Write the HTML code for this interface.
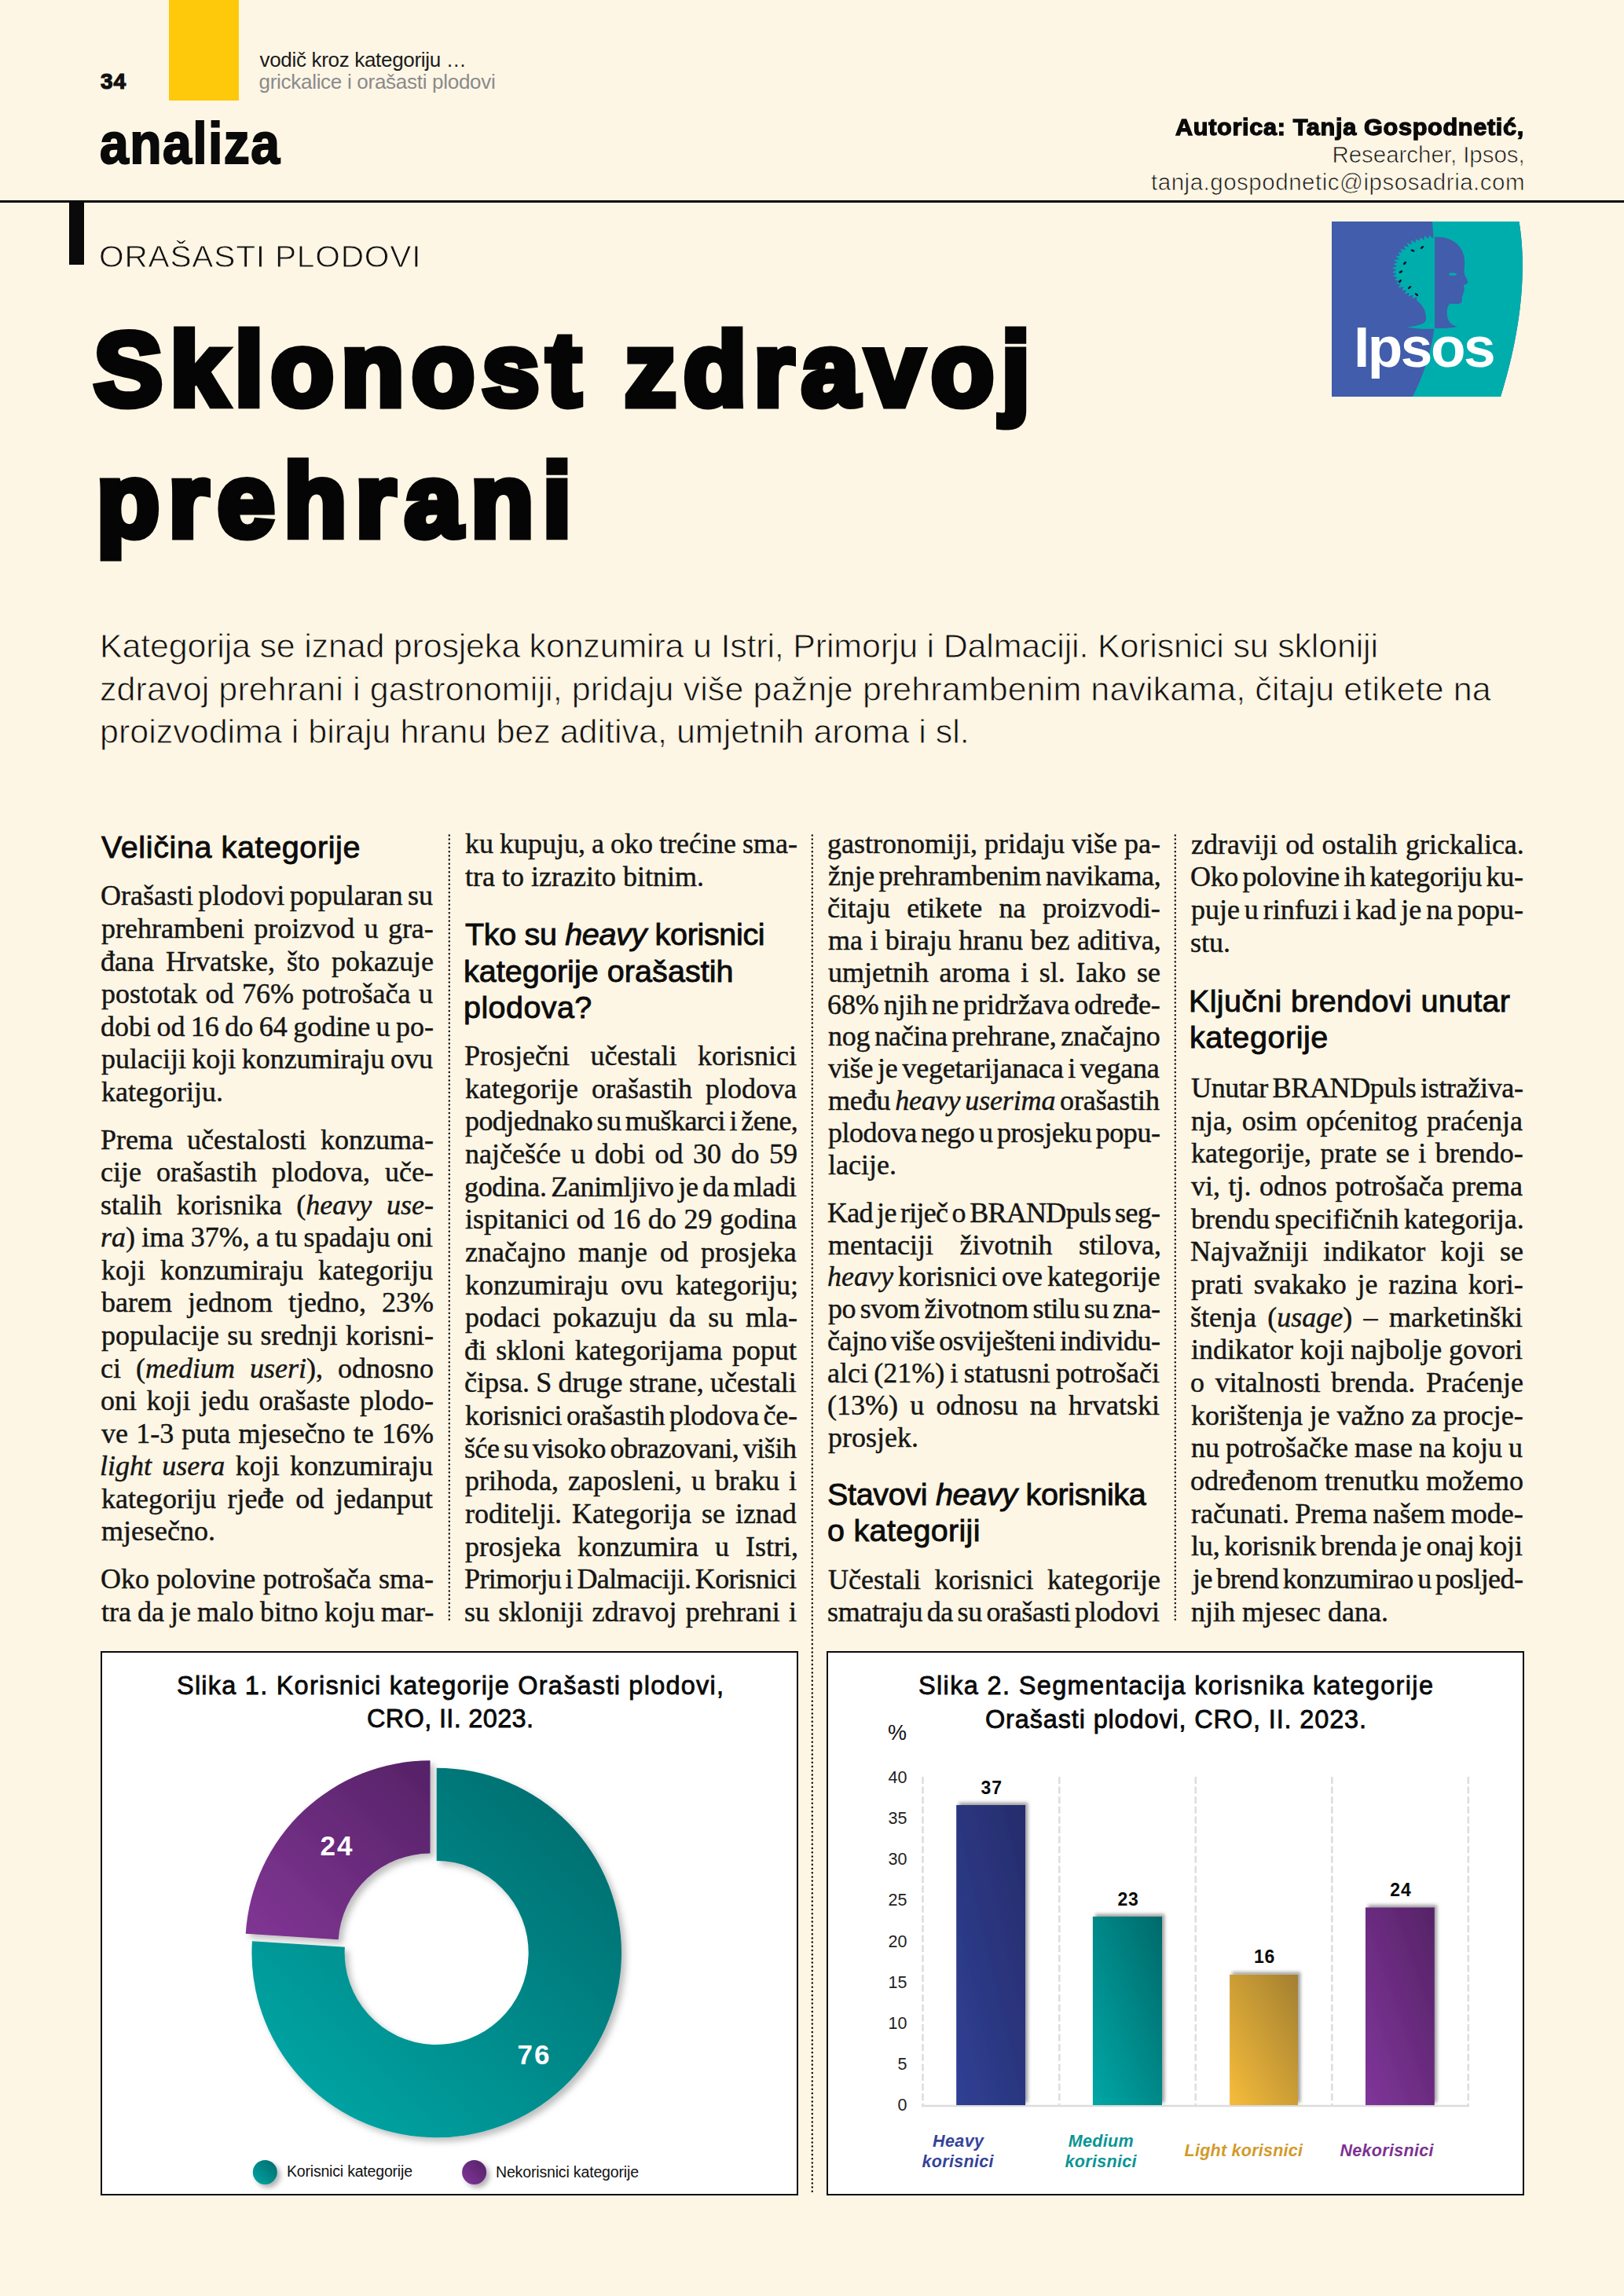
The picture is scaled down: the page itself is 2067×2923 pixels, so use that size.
<!DOCTYPE html><html lang="hr"><head><meta charset="utf-8"><title>Sklonost zdravoj prehrani</title><style>

html,body{margin:0;padding:0}
body{width:2067px;height:2923px;position:relative;overflow:hidden;background:#fef6e5;color:#141414;font-family:"Liberation Sans",sans-serif}
.a{position:absolute;white-space:nowrap;line-height:1;margin:0;padding:0}
.b{font-family:"Liberation Serif",serif;font-size:36px;color:#161616;-webkit-text-stroke:0.45px #161616}
.b i{font-style:italic}
.hd{font-family:"Liberation Sans",sans-serif;font-size:39.5px;color:#0c0c0c;-webkit-text-stroke:0.9px #0c0c0c}
.pg{font-weight:700;font-size:28px;-webkit-text-stroke:1.2px #111;color:#111}
.top1{font-size:26px;color:#1a1a1a}
.top2{font-size:26px;color:#8a8a8a}
.an{font-weight:700;font-size:75px;color:#0a0a0a;-webkit-text-stroke:2.2px #0a0a0a;transform:scaleX(0.88);transform-origin:0 50%}
.op{font-size:38px;color:#111;-webkit-text-stroke:0.8px #fef6e5;transform:scaleX(1.07);transform-origin:0 50%}
.a1{font-weight:700;font-size:29.5px;color:#0a0a0a;-webkit-text-stroke:1.3px #0a0a0a;transform:scaleX(1.04);transform-origin:0 50%}
.a2{font-size:29.5px;color:#111;-webkit-text-stroke:0.7px #fef6e5}
.ttl{font-weight:700;font-size:131px;color:#050505;-webkit-text-stroke:9px #050505;paint-order:stroke fill}
.lead{font-size:43px;color:#111;-webkit-text-stroke:0.8px #fef6e5}

.yb{position:absolute;left:215px;top:0;width:88.5px;height:127.5px;background:#fdc90a}
.rule{position:absolute;left:0;top:254.7px;width:2067px;height:3px;background:#0a0a0a}
.bar{position:absolute;left:88px;top:256px;width:18.6px;height:81px;background:#0a0a0a}
.sep{position:absolute;width:0;border-left:2.2px dotted #3a3a3a}
.box{position:absolute;top:2101.5px;height:693.3px;background:#fff;border:2.5px solid #0a0a0a;box-sizing:border-box}
svg{position:absolute;overflow:visible}
svg text{font-family:"Liberation Sans",sans-serif}

</style></head><body>
<div class="yb"></div>
<div class="rule"></div>
<div class="bar"></div>
<svg style="left:0;top:1060px" width="2067" height="1740" viewBox="0 1060 2067 1740"><g stroke="#111" stroke-width="2.5" stroke-linecap="round" stroke-dasharray="0 5.2"><line x1="571.8" y1="1063.4" x2="571.8" y2="2064"/><line x1="1033.8" y1="1063.4" x2="1033.8" y2="2791"/><line x1="1495.8" y1="1063.4" x2="1495.8" y2="2064"/></g></svg>
<svg id="logo" style="left:1695px;top:282px" width="246" height="223" viewBox="0 0 246 223">
<defs><clipPath id="lc"><path d="M0 0 H238.5 C246 45 247 120 215 223 H0 Z"/></clipPath></defs>
<g clip-path="url(#lc)">
<rect x="0" y="0" width="250" height="223" fill="#415dab"/>
<path d="M128 0 C131 40 134 90 131 130 C128 165 115 200 103 223 H250 V0 Z" fill="#00adad"/>
<!-- tree crown (teal on blue) -->
<path d="M131 17.9 L131.0 17.2 L128.2 21.4 L124.7 17.4 L122.5 21.9 L118.4 18.0 L117.2 23.6 L112.7 20.2 L111.5 24.4 L106.8 22.0 L106.8 27.1 L100.8 23.8 L101.9 29.5 L95.8 27.1 L97.6 32.5 L91.4 30.9 L94.2 36.1 L87.4 34.9 L89.9 39.4 L84.1 39.4 L87.3 43.5 L81.1 44.0 L86.1 48.1 L78.9 48.9 L83.8 52.4 L78.2 54.0 L83.7 57.1 L76.7 59.1 L82.8 61.7 L77.1 64.4 L82.6 66.4 L77.9 69.5 L83.7 71.0 L80.0 74.5 L85.6 75.4 L82.2 79.3 L87.8 79.8 L84.6 84.1 L91.8 83.2 L89.1 87.9 L95.1 86.9 L92.4 92.5 L98.9 90.4 L97.4 95.6 L103.4 93.2 L102.7 98.5 L108.2 95.7 L108.4 100.8 C118 108 120 116 120 124 C120 131 108 133 96 134.5 C108 137 120 137 131 136.5 Z" fill="#00adad"/>
<!-- face (blue on teal) -->
<path d="M131 20 C142 19 152 22 160 29 C167 36 170 46 169 56 C169 60 168 64 169 67 C170 71 174 75 173 78 C172 80 168 80 168 82 C168 85 170 87 168 89 C167 91 168 93 166 95 C165 98 167 102 164 104 C160 106 154 104 150 105 C147 108 146 114 147 120 C148 126 150 131 160 134 C150 136 140 136 131 136 Z" fill="#415dab"/>
<ellipse cx="154" cy="67" rx="5" ry="1.8" fill="#00adad"/>
<g fill="#0b1320"><ellipse cx="115" cy="33" rx="2.6" ry="1.3" transform="rotate(-40 115 33)"/><ellipse cx="103" cy="37" rx="2.6" ry="1.3" transform="rotate(20 103 37)"/><ellipse cx="93" cy="53" rx="2.6" ry="1.3" transform="rotate(-45 93 53)"/><ellipse cx="88" cy="64" rx="2.6" ry="1.3" transform="rotate(-30 88 64)"/><ellipse cx="87" cy="76" rx="2.6" ry="1.3" transform="rotate(-50 87 76)"/><ellipse cx="99" cy="84" rx="2.6" ry="1.3" transform="rotate(-35 99 84)"/><ellipse cx="108" cy="93" rx="2.6" ry="1.3" transform="rotate(40 108 93)"/></g>
</g>
<text x="28" y="185" font-size="73" font-weight="700" fill="#fff" letter-spacing="-2.5" textLength="178" lengthAdjust="spacingAndGlyphs">Ipsos</text>
</svg>

<div class="a pg" id="pg" style="left:128.00px;top:90.00px;letter-spacing:1.000px">34</div>
<div class="a top1" id="t1" style="left:330.50px;top:63.00px;letter-spacing:-0.318px">vodič kroz kategoriju …</div>
<div class="a top2" id="t2" style="left:329.50px;top:90.70px;letter-spacing:-0.286px">grickalice i orašasti plodovi</div>
<div class="a an" id="an" style="left:127.00px;top:144.61px;letter-spacing:1.667px">analiza</div>
<div class="a op" id="op" style="left:126.00px;top:308.00px;letter-spacing:0.733px">ORAŠASTI PLODOVI</div>
<div class="a a1" id="a1" style="left:1496.00px;top:146.56px;letter-spacing:0.630px">Autorica: Tanja Gospodnetić,</div>
<div class="a a2" id="a2" style="left:1695.50px;top:181.50px;letter-spacing:-0.047px">Researcher, Ipsos,</div>
<div class="a a2" id="a3" style="left:1465.00px;top:217.41px;letter-spacing:0.516px">tanja.gospodnetic@ipsosadria.com</div>
<div class="a ttl" id="h1" style="left:119.50px;top:404.91px;letter-spacing:9.547px">Sklonost zdravoj</div>
<div class="a ttl" id="h2" style="left:123.00px;top:571.50px;letter-spacing:11.429px">prehrani</div>
<div class="a lead" id="l1" style="left:127.00px;top:801.41px;letter-spacing:-0.191px">Kategorija se iznad prosjeka konzumira u Istri, Primorju i Dalmaciji. Korisnici su skloniji</div>
<div class="a lead" id="l2" style="left:127.00px;top:856.20px;letter-spacing:0.100px">zdravoj prehrani i gastronomiji, pridaju više pažnje prehrambenim navikama, čitaju etikete na</div>
<div class="a lead" id="l3" style="left:127.00px;top:909.70px;letter-spacing:0.003px">proizvodima i biraju hranu bez aditiva, umjetnih aroma i sl.</div>
<div class="a hd" id="b0" style="left:129.00px;top:1059.00px;letter-spacing:0.611px">Veličina kategorije</div>
<div class="a b" id="b1" style="left:128.00px;top:1122.41px;word-spacing:-2.667px;letter-spacing:0.000px">Orašasti plodovi popularan su</div>
<div class="a b" id="b2" style="left:129.00px;top:1163.95px;word-spacing:3.333px;letter-spacing:0.000px">prehrambeni proizvod u gra-</div>
<div class="a b" id="b3" style="left:128.00px;top:1205.50px;word-spacing:6.000px;letter-spacing:0.000px">đana Hrvatske, što pokazuje</div>
<div class="a b" id="b4" style="left:129.00px;top:1247.06px;word-spacing:1.500px;letter-spacing:0.000px">postotak od 76% potrošača u</div>
<div class="a b" id="b5" style="left:128.00px;top:1288.61px;word-spacing:-1.571px;letter-spacing:0.000px">dobi od 16 do 64 godine u po-</div>
<div class="a b" id="b6" style="left:129.00px;top:1330.16px;word-spacing:-1.667px;letter-spacing:0.000px">pulaciji koji konzumiraju ovu</div>
<div class="a b" id="b7" style="left:129.00px;top:1371.70px;word-spacing:0.000px;letter-spacing:0.000px">kategoriju.</div>
<div class="a b" id="b8" style="left:128.00px;top:1432.66px;word-spacing:9.000px;letter-spacing:0.000px">Prema učestalosti konzuma-</div>
<div class="a b" id="b9" style="left:128.00px;top:1474.20px;word-spacing:10.000px;letter-spacing:0.000px">cije orašastih plodova, uče-</div>
<div class="a b" id="b10" style="left:128.00px;top:1515.75px;word-spacing:9.667px;letter-spacing:0.000px">stalih korisnika (<i>heavy use-</i></div>
<div class="a b" id="b11" style="left:128.00px;top:1557.31px;word-spacing:-0.667px;letter-spacing:0.000px"><i>ra</i>) ima 37%, a tu spadaju oni</div>
<div class="a b" id="b12" style="left:129.00px;top:1598.86px;word-spacing:10.000px;letter-spacing:0.000px">koji konzumiraju kategoriju</div>
<div class="a b" id="b13" style="left:129.00px;top:1640.41px;word-spacing:11.000px;letter-spacing:0.000px">barem jednom tjedno, 23%</div>
<div class="a b" id="b14" style="left:129.00px;top:1681.95px;word-spacing:1.333px;letter-spacing:0.000px">populacije su srednji korisni-</div>
<div class="a b" id="b15" style="left:128.00px;top:1723.50px;word-spacing:10.000px;letter-spacing:0.000px">ci (<i>medium useri</i>), odnosno</div>
<div class="a b" id="b16" style="left:128.00px;top:1765.06px;word-spacing:3.500px;letter-spacing:0.000px">oni koji jedu orašaste plodo-</div>
<div class="a b" id="b17" style="left:129.00px;top:1806.61px;word-spacing:1.200px;letter-spacing:0.000px">ve 1-3 puta mjesečno te 16%</div>
<div class="a b" id="b18" style="left:127.00px;top:1848.16px;word-spacing:4.333px;letter-spacing:0.000px"><i>light usera</i> koji konzumiraju</div>
<div class="a b" id="b19" style="left:129.00px;top:1889.70px;word-spacing:5.667px;letter-spacing:0.000px">kategoriju rjeđe od jedanput</div>
<div class="a b" id="b20" style="left:129.00px;top:1931.25px;word-spacing:0.000px;letter-spacing:0.000px">mjesečno.</div>
<div class="a b" id="b21" style="left:128.00px;top:1992.20px;word-spacing:0.333px;letter-spacing:0.000px">Oko polovine potrošača sma-</div>
<div class="a b" id="b22" style="left:129.00px;top:2033.75px;word-spacing:-1.000px;letter-spacing:0.000px">tra da je malo bitno koju mar-</div>
<div class="a b" id="b23" style="left:592.00px;top:1056.00px;word-spacing:-1.000px;letter-spacing:0.000px">ku kupuju, a oko trećine sma-</div>
<div class="a b" id="b24" style="left:592.00px;top:1097.61px;word-spacing:0.000px;letter-spacing:0.000px">tra to izrazito bitnim.</div>
<div class="a hd" id="b25" style="left:592.00px;top:1169.91px;letter-spacing:-0.333px">Tko su <i>heavy</i> korisnici</div>
<div class="a hd" id="b26" style="left:590.00px;top:1216.50px;letter-spacing:0.053px">kategorije orašastih</div>
<div class="a hd" id="b27" style="left:590.00px;top:1262.50px;letter-spacing:0.429px">plodova?</div>
<div class="a b" id="b28" style="left:591.00px;top:1326.20px;word-spacing:17.500px;letter-spacing:0.000px">Prosječni učestali korisnici</div>
<div class="a b" id="b29" style="left:592.00px;top:1367.82px;word-spacing:8.000px;letter-spacing:0.000px">kategorije orašastih plodova</div>
<div class="a b" id="b30" style="left:592.00px;top:1409.45px;word-spacing:-3.000px;letter-spacing:-0.586px">podjednako su muškarci i žene,</div>
<div class="a b" id="b31" style="left:592.00px;top:1451.07px;word-spacing:3.500px;letter-spacing:0.000px">najčešće u dobi od 30 do 59</div>
<div class="a b" id="b32" style="left:591.00px;top:1492.68px;word-spacing:-3.000px;letter-spacing:-0.345px">godina. Zanimljivo je da mladi</div>
<div class="a b" id="b33" style="left:592.00px;top:1534.31px;word-spacing:0.600px;letter-spacing:0.000px">ispitanici od 16 do 29 godina</div>
<div class="a b" id="b34" style="left:592.00px;top:1575.93px;word-spacing:7.000px;letter-spacing:0.000px">značajno manje od prosjeka</div>
<div class="a b" id="b35" style="left:592.00px;top:1617.54px;word-spacing:7.000px;letter-spacing:0.000px">konzumiraju ovu kategoriju;</div>
<div class="a b" id="b36" style="left:592.00px;top:1659.18px;word-spacing:6.750px;letter-spacing:0.000px">podaci pokazuju da su mla-</div>
<div class="a b" id="b37" style="left:591.00px;top:1700.79px;word-spacing:3.333px;letter-spacing:0.000px">đi skloni kategorijama poput</div>
<div class="a b" id="b38" style="left:591.00px;top:1742.41px;word-spacing:-0.750px;letter-spacing:0.000px">čipsa. S druge strane, učestali</div>
<div class="a b" id="b39" style="left:592.00px;top:1784.04px;word-spacing:-3.000px;letter-spacing:-0.300px">korisnici orašastih plodova če-</div>
<div class="a b" id="b40" style="left:591.00px;top:1825.65px;word-spacing:-3.000px;letter-spacing:-0.467px">šće su visoko obrazovani, viših</div>
<div class="a b" id="b41" style="left:592.00px;top:1867.27px;word-spacing:3.000px;letter-spacing:0.000px">prihoda, zaposleni, u braku i</div>
<div class="a b" id="b42" style="left:592.00px;top:1908.88px;word-spacing:4.000px;letter-spacing:0.000px">roditelji. Kategorija se iznad</div>
<div class="a b" id="b43" style="left:592.00px;top:1950.50px;word-spacing:12.000px;letter-spacing:0.000px">prosjeka konzumira u Istri,</div>
<div class="a b" id="b44" style="left:591.00px;top:1992.13px;word-spacing:-3.000px;letter-spacing:-0.600px">Primorju i Dalmaciji. Korisnici</div>
<div class="a b" id="b45" style="left:591.00px;top:2033.75px;word-spacing:2.250px;letter-spacing:0.000px">su skloniji zdravoj prehrani i</div>
<div class="a b" id="b46" style="left:1053.00px;top:1056.41px;word-spacing:0.000px;letter-spacing:0.000px">gastronomiji, pridaju više pa-</div>
<div class="a b" id="b47" style="left:1054.00px;top:1097.25px;word-spacing:-3.000px;letter-spacing:-0.269px">žnje prehrambenim navikama,</div>
<div class="a b" id="b48" style="left:1053.00px;top:1138.09px;word-spacing:12.333px;letter-spacing:0.000px">čitaju etikete na proizvodi-</div>
<div class="a b" id="b49" style="left:1054.00px;top:1178.93px;word-spacing:0.400px;letter-spacing:0.000px">ma i biraju hranu bez aditiva,</div>
<div class="a b" id="b50" style="left:1054.00px;top:1219.77px;word-spacing:4.600px;letter-spacing:0.000px">umjetnih aroma i sl. Iako se</div>
<div class="a b" id="b51" style="left:1053.00px;top:1260.61px;word-spacing:-3.000px;letter-spacing:-0.071px">68% njih ne pridržava određe-</div>
<div class="a b" id="b52" style="left:1054.00px;top:1301.45px;word-spacing:-3.000px;letter-spacing:-0.214px">nog načina prehrane, značajno</div>
<div class="a b" id="b53" style="left:1054.00px;top:1342.29px;word-spacing:-3.000px;letter-spacing:-0.200px">više je vegetarijanaca i vegana</div>
<div class="a b" id="b54" style="left:1054.00px;top:1383.13px;word-spacing:-3.000px;letter-spacing:-0.148px">među <i>heavy userima</i> orašastih</div>
<div class="a b" id="b55" style="left:1054.00px;top:1423.96px;word-spacing:-3.000px;letter-spacing:-0.464px">plodova nego u prosjeku popu-</div>
<div class="a b" id="b56" style="left:1054.00px;top:1464.81px;word-spacing:0.000px;letter-spacing:0.000px">lacije.</div>
<div class="a b" id="b57" style="left:1053.00px;top:1525.70px;word-spacing:-3.000px;letter-spacing:-0.714px">Kad je riječ o BRANDpuls seg-</div>
<div class="a b" id="b58" style="left:1054.00px;top:1566.54px;word-spacing:24.500px;letter-spacing:0.000px">mentaciji životnih stilova,</div>
<div class="a b" id="b59" style="left:1053.00px;top:1607.38px;word-spacing:-3.000px;letter-spacing:0.000px"><i>heavy</i> korisnici ove kategorije</div>
<div class="a b" id="b60" style="left:1054.00px;top:1648.23px;word-spacing:-3.000px;letter-spacing:-0.448px">po svom životnom stilu su zna-</div>
<div class="a b" id="b61" style="left:1053.00px;top:1689.07px;word-spacing:-3.000px;letter-spacing:-0.516px">čajno više osviješteni individu-</div>
<div class="a b" id="b62" style="left:1053.00px;top:1729.91px;word-spacing:-1.750px;letter-spacing:0.000px">alci (21%) i statusni potrošači</div>
<div class="a b" id="b63" style="left:1053.00px;top:1770.75px;word-spacing:6.250px;letter-spacing:0.000px">(13%) u odnosu na hrvatski</div>
<div class="a b" id="b64" style="left:1054.00px;top:1811.59px;word-spacing:0.000px;letter-spacing:0.000px">prosjek.</div>
<div class="a hd" id="b65" style="left:1053.00px;top:1883.00px;letter-spacing:-0.318px">Stavovi <i>heavy</i> korisnika</div>
<div class="a hd" id="b66" style="left:1053.00px;top:1928.50px;letter-spacing:0.309px">o kategoriji</div>
<div class="a b" id="b67" style="left:1054.00px;top:1992.81px;word-spacing:8.500px;letter-spacing:0.000px">Učestali korisnici kategorije</div>
<div class="a b" id="b68" style="left:1053.00px;top:2033.70px;word-spacing:-3.000px;letter-spacing:-0.367px">smatraju da su orašasti plodovi</div>
<div class="a b" id="b69" style="left:1516.00px;top:1056.81px;word-spacing:1.333px;letter-spacing:0.000px">zdraviji od ostalih grickalica.</div>
<div class="a b" id="b70" style="left:1515.00px;top:1098.41px;word-spacing:-3.000px;letter-spacing:-0.345px">Oko polovine ih kategoriju ku-</div>
<div class="a b" id="b71" style="left:1516.00px;top:1140.00px;word-spacing:-3.000px;letter-spacing:-0.032px">puje u rinfuzi i kad je na popu-</div>
<div class="a b" id="b72" style="left:1515.00px;top:1181.61px;word-spacing:0.000px;letter-spacing:0.000px">stu.</div>
<div class="a hd" id="b73" style="left:1513.00px;top:1254.50px;letter-spacing:0.327px">Ključni brendovi unutar</div>
<div class="a hd" id="b74" style="left:1514.00px;top:1301.00px;letter-spacing:0.556px">kategorije</div>
<div class="a b" id="b75" style="left:1516.00px;top:1366.91px;word-spacing:-3.000px;letter-spacing:-0.346px">Unutar BRANDpuls istraživa-</div>
<div class="a b" id="b76" style="left:1516.00px;top:1408.58px;word-spacing:2.667px;letter-spacing:0.000px">nja, osim općenitog praćenja</div>
<div class="a b" id="b77" style="left:1516.00px;top:1450.25px;word-spacing:2.500px;letter-spacing:0.000px">kategorije, prate se i brendo-</div>
<div class="a b" id="b78" style="left:1516.00px;top:1491.94px;word-spacing:1.500px;letter-spacing:0.000px">vi, tj. odnos potrošača prema</div>
<div class="a b" id="b79" style="left:1516.00px;top:1533.61px;word-spacing:-2.500px;letter-spacing:0.000px">brendu specifičnih kategorija.</div>
<div class="a b" id="b80" style="left:1515.00px;top:1575.28px;word-spacing:10.333px;letter-spacing:0.000px">Najvažniji indikator koji se</div>
<div class="a b" id="b81" style="left:1516.00px;top:1616.95px;word-spacing:4.750px;letter-spacing:0.000px">prati svakako je razina kori-</div>
<div class="a b" id="b82" style="left:1515.00px;top:1658.64px;word-spacing:5.333px;letter-spacing:0.000px">štenja (<i>usage</i>) – marketinški</div>
<div class="a b" id="b83" style="left:1516.00px;top:1700.31px;word-spacing:-0.333px;letter-spacing:0.000px">indikator koji najbolje govori</div>
<div class="a b" id="b84" style="left:1515.00px;top:1741.98px;word-spacing:4.667px;letter-spacing:0.000px">o vitalnosti brenda. Praćenje</div>
<div class="a b" id="b85" style="left:1516.00px;top:1783.66px;word-spacing:-0.250px;letter-spacing:0.000px">korištenja je važno za procje-</div>
<div class="a b" id="b86" style="left:1516.00px;top:1825.33px;word-spacing:-1.000px;letter-spacing:0.000px">nu potrošačke mase na koju u</div>
<div class="a b" id="b87" style="left:1515.00px;top:1867.00px;word-spacing:0.000px;letter-spacing:0.000px">određenom trenutku možemo</div>
<div class="a b" id="b88" style="left:1516.00px;top:1908.69px;word-spacing:-1.667px;letter-spacing:0.000px">računati. Prema našem mode-</div>
<div class="a b" id="b89" style="left:1516.00px;top:1950.36px;word-spacing:-3.000px;letter-spacing:-0.161px">lu, korisnik brenda je onaj koji</div>
<div class="a b" id="b90" style="left:1518.00px;top:1992.03px;word-spacing:-3.000px;letter-spacing:-0.586px">je brend konzumirao u posljed-</div>
<div class="a b" id="b91" style="left:1516.00px;top:2033.70px;word-spacing:0.000px;letter-spacing:0.000px">njih mjesec dana.</div>
<div class="box" style="left:128px;width:888px"></div>
<div class="box" style="left:1052px;width:888px"></div>
<svg style="left:0;top:2100px" width="2067" height="700" viewBox="0 2100 2067 700">
<defs>
<linearGradient id="gt" gradientUnits="userSpaceOnUse" x1="760" y1="2290" x2="380" y2="2680"><stop offset="0" stop-color="#006c6e"/><stop offset="1" stop-color="#00a5a4"/></linearGradient>
<linearGradient id="gp" gradientUnits="userSpaceOnUse" x1="550" y1="2245" x2="330" y2="2470"><stop offset="0" stop-color="#552266"/><stop offset="1" stop-color="#7f3593"/></linearGradient>
<linearGradient id="gb1" x1="0" y1="1" x2="1" y2="0"><stop offset="0" stop-color="#2f4094"/><stop offset="1" stop-color="#262c6b"/></linearGradient>
<linearGradient id="gb2" x1="0" y1="1" x2="1" y2="0"><stop offset="0" stop-color="#00a7a6"/><stop offset="1" stop-color="#00696a"/></linearGradient>
<linearGradient id="gb3" x1="0" y1="1" x2="1" y2="0"><stop offset="0" stop-color="#f6bc3b"/><stop offset="1" stop-color="#a27f30"/></linearGradient>
<linearGradient id="gb4" x1="0" y1="1" x2="1" y2="0"><stop offset="0" stop-color="#80359a"/><stop offset="1" stop-color="#552366"/></linearGradient>
<filter id="sh" x="-10%" y="-10%" width="125%" height="125%"><feDropShadow dx="5" dy="5" stdDeviation="4" flood-color="#000" flood-opacity="0.26"/></filter>
<filter id="shl" x="-10%" y="-60%" width="120%" height="230%"><feDropShadow dx="4" dy="4" stdDeviation="3" flood-color="#000" flood-opacity="0.3"/></filter>
<filter id="shb" x="-20%" y="-10%" width="140%" height="120%"><feDropShadow dx="3.2" dy="-3.2" stdDeviation="2.2" flood-color="#000" flood-opacity="0.38"/></filter>
</defs>
<g filter="url(#sh)"><path d="M555.7 2250.7 A235.3 235.3 0 1 1 320.9 2471.2 L438.9 2478.7 A117 117 0 1 0 555.7 2369.0 Z" fill="url(#gt)"/><path d="M312.7 2461.8 A235.3 235.3 0 0 1 547.5 2241.3 L547.5 2359.6 A117 117 0 0 0 430.7 2469.3 Z" fill="url(#gp)"/></g>
<text x="429" y="2362" text-anchor="middle" font-size="35" font-weight="700" fill="#fff" letter-spacing="2">24</text>
<text x="680" y="2627.5" text-anchor="middle" font-size="35" font-weight="700" fill="#fff" letter-spacing="2">76</text>
<g font-size="32.5" fill="#0a0a0a" stroke="#0a0a0a" stroke-width="0.8" text-anchor="middle"><text x="573" y="2157.4" textLength="696" lengthAdjust="spacing">Slika 1. Korisnici kategorije Orašasti plodovi,</text><text x="573" y="2199.4" textLength="212" lengthAdjust="spacing">CRO, II. 2023.</text></g>
<g filter="url(#shl)"><circle cx="337.3" cy="2765.5" r="15.5" fill="url(#gb2)"/><circle cx="603.6" cy="2765.5" r="15.5" fill="url(#gb4)"/></g>
<g font-size="19.5" fill="#111"><text x="365" y="2770.5" textLength="160" lengthAdjust="spacing">Korisnici kategorije</text><text x="631" y="2772" textLength="182" lengthAdjust="spacing">Nekorisnici kategorije</text></g>
<g font-size="32.5" fill="#0a0a0a" stroke="#0a0a0a" stroke-width="0.8" text-anchor="middle"><text x="1496.5" y="2157.3" textLength="655" lengthAdjust="spacing">Slika 2. Segmentacija korisnika kategorije</text><text x="1496.5" y="2199.6" textLength="485" lengthAdjust="spacing">Orašasti plodovi, CRO, II. 2023.</text></g>
<text x="1130" y="2215.3" font-size="27" fill="#111">%</text>
<line x1="1174.5" y1="2262" x2="1174.5" y2="2680" stroke="#dedede" stroke-width="2.6" stroke-dasharray="9 3.6"/>
<line x1="1348.3" y1="2262" x2="1348.3" y2="2680" stroke="#dedede" stroke-width="2.6" stroke-dasharray="9 3.6"/>
<line x1="1521.8" y1="2262" x2="1521.8" y2="2680" stroke="#dedede" stroke-width="2.6" stroke-dasharray="9 3.6"/>
<line x1="1695.3" y1="2262" x2="1695.3" y2="2680" stroke="#dedede" stroke-width="2.6" stroke-dasharray="9 3.6"/>
<line x1="1868.8" y1="2262" x2="1868.8" y2="2680" stroke="#dedede" stroke-width="2.6" stroke-dasharray="9 3.6"/>
<line x1="1173" y1="2681" x2="1870" y2="2681" stroke="#dcdcdc" stroke-width="2.4"/>
<text x="1154.5" y="2687.3" font-size="21.5" fill="#222" text-anchor="end">0</text>
<text x="1154.5" y="2635.1" font-size="21.5" fill="#222" text-anchor="end">5</text>
<text x="1154.5" y="2582.9" font-size="21.5" fill="#222" text-anchor="end">10</text>
<text x="1154.5" y="2530.7" font-size="21.5" fill="#222" text-anchor="end">15</text>
<text x="1154.5" y="2478.5" font-size="21.5" fill="#222" text-anchor="end">20</text>
<text x="1154.5" y="2426.3" font-size="21.5" fill="#222" text-anchor="end">25</text>
<text x="1154.5" y="2374.1" font-size="21.5" fill="#222" text-anchor="end">30</text>
<text x="1154.5" y="2321.9" font-size="21.5" fill="#222" text-anchor="end">35</text>
<text x="1154.5" y="2269.7" font-size="21.5" fill="#222" text-anchor="end">40</text>
<g filter="url(#shb)"><rect x="1217.2" y="2298.0" width="87.9" height="382.0" fill="url(#gb1)"/></g>
<text x="1262.2" y="2283.5" font-size="23" font-weight="700" fill="#0a0a0a" text-anchor="middle" letter-spacing="0.8">37</text>
<g filter="url(#shb)"><rect x="1390.9" y="2440.0" width="88.1" height="240.0" fill="url(#gb2)"/></g>
<text x="1436.0" y="2425.5" font-size="23" font-weight="700" fill="#0a0a0a" text-anchor="middle" letter-spacing="0.8">23</text>
<g filter="url(#shb)"><rect x="1565.1" y="2513.9" width="86.9" height="166.1" fill="url(#gb3)"/></g>
<text x="1609.5" y="2499.4" font-size="23" font-weight="700" fill="#0a0a0a" text-anchor="middle" letter-spacing="0.8">16</text>
<g filter="url(#shb)"><rect x="1738.0" y="2428.4" width="87.8" height="251.6" fill="url(#gb4)"/></g>
<text x="1782.9" y="2413.9" font-size="23" font-weight="700" fill="#0a0a0a" text-anchor="middle" letter-spacing="0.8">24</text>
<g font-size="21.5" font-weight="700" font-style="italic" text-anchor="middle"><text x="1219.5" y="2732.6" fill="#34439a" textLength="65" lengthAdjust="spacing">Heavy</text><text x="1219" y="2758.6" fill="#34439a" textLength="91" lengthAdjust="spacing">korisnici</text><text x="1401.2" y="2732.6" fill="#0a9593" textLength="83" lengthAdjust="spacing">Medium</text><text x="1401" y="2758.6" fill="#0a9593" textLength="91" lengthAdjust="spacing">korisnici</text><text x="1582.8" y="2745.3" fill="#d29a2a" textLength="150.5" lengthAdjust="spacing">Light korisnici</text><text x="1765" y="2745.3" fill="#7d3192" textLength="119" lengthAdjust="spacing">Nekorisnici</text></g>
</svg>
</body></html>
